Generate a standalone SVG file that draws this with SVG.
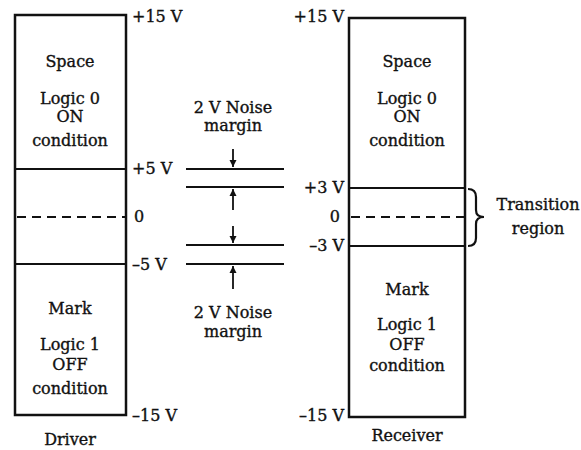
<svg xmlns="http://www.w3.org/2000/svg" width="581" height="450" viewBox="0 0 581 450">
<style>
text{font-family:"DejaVu Serif","Liberation Serif",serif;font-size:16px;fill:#111;stroke:#111;stroke-width:0.35}
.c{text-anchor:middle}
.r{text-anchor:end}
.box{fill:none;stroke:#111;stroke-width:2.5}
.ln{stroke:#111;stroke-width:2.2;fill:none}
.dash{stroke:#111;stroke-width:2;stroke-dasharray:9,6;fill:none}
.arr{stroke:#111;stroke-width:1.8;fill:none;marker-end:url(#ah)}
</style>
<defs>
<marker id="ah" markerWidth="8" markerHeight="8" refX="7" refY="4" orient="auto" markerUnits="userSpaceOnUse">
<path d="M0,0.5 L7,4 L0,7.5 Z" fill="#111"/>
</marker>
</defs>
<rect width="581" height="450" fill="#fff"/>
<g id="driver">
<rect class="box" x="15" y="15" width="111" height="400"/>
<line class="ln" x1="15" y1="169" x2="126" y2="169"/>
<line class="dash" x1="17" y1="217" x2="126" y2="217"/>
<line class="ln" x1="15" y1="264" x2="126" y2="264"/>
<text class="c" x="70" y="67">Space</text>
<text class="c" x="70" y="104">Logic 0</text>
<text class="c" x="70" y="122">ON</text>
<text class="c" x="70" y="146">condition</text>
<text class="c" x="70" y="314">Mark</text>
<text class="c" x="70" y="350">Logic 1</text>
<text class="c" x="70" y="370">OFF</text>
<text class="c" x="70" y="394">condition</text>
<text class="c" x="70" y="445">Driver</text>
<text x="132" y="22">+15 V</text>
<text x="132" y="174">+5 V</text>
<text x="134" y="222">0</text>
<text x="132" y="270">–5 V</text>
<text x="132" y="421">–15 V</text>
</g>
<g id="receiver">
<rect class="box" x="349" y="18" width="116" height="399"/>
<line class="ln" x1="349" y1="188" x2="465" y2="188"/>
<line class="dash" x1="351" y1="217" x2="465" y2="217"/>
<line class="ln" x1="349" y1="246" x2="465" y2="246"/>
<text class="c" x="407" y="67">Space</text>
<text class="c" x="407" y="104">Logic 0</text>
<text class="c" x="407" y="122">ON</text>
<text class="c" x="407" y="146">condition</text>
<text class="c" x="407" y="295">Mark</text>
<text class="c" x="407" y="330">Logic 1</text>
<text class="c" x="407" y="350">OFF</text>
<text class="c" x="407" y="371">condition</text>
<text class="c" x="407" y="441">Receiver</text>
<text class="r" x="344" y="22">+15 V</text>
<text class="r" x="344" y="193">+3 V</text>
<text class="r" x="340" y="222">0</text>
<text class="r" x="344" y="251">–3 V</text>
<text class="r" x="344" y="421">–15 V</text>
</g>
<g id="transition">
<path class="ln" stroke-width="1.8" d="M468,189 Q476,189 476,197 L476,210 Q476,217 484,217 Q476,217 476,224 L476,238 Q476,246 468,246"/>
<text class="c" x="538" y="210">Transition</text>
<text class="c" x="538" y="234">region</text>
</g>
<g id="noise-margins">
<line class="ln" x1="186" y1="169" x2="284" y2="169"/>
<line class="ln" x1="186" y1="187" x2="284" y2="187"/>
<line class="ln" x1="186" y1="245" x2="284" y2="245"/>
<line class="ln" x1="186" y1="264" x2="284" y2="264"/>
<text class="c" x="233" y="113">2 V Noise</text>
<text class="c" x="233" y="131">margin</text>
<text class="c" x="233" y="318">2 V Noise</text>
<text class="c" x="233" y="337">margin</text>
</g>
<g id="connectors">
<line class="arr" x1="233" y1="149" x2="233" y2="167"/>
<line class="arr" x1="233" y1="210" x2="233" y2="189"/>
<line class="arr" x1="233" y1="226" x2="233" y2="243"/>
<line class="arr" x1="233" y1="289" x2="233" y2="266"/>
</g>
</svg>
